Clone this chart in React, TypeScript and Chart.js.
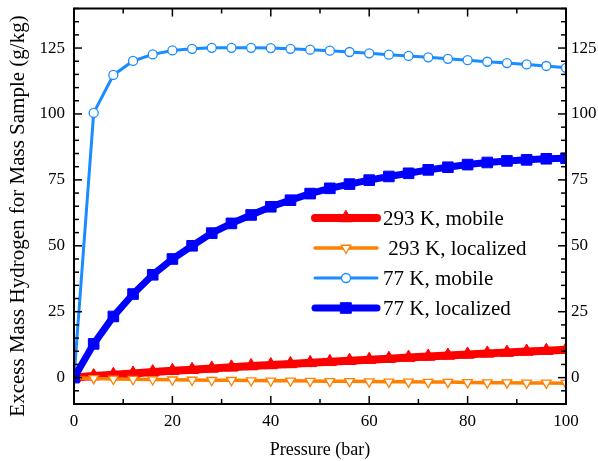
import React, { useEffect, useRef } from 'react';
import { Chart, registerables } from 'chart.js';
import { drawPoint } from 'chart.js/helpers';

Chart.register(...registerables);

const pressure = [0, 4, 8, 12, 16, 20, 24, 28, 32, 36, 40, 44, 48, 52, 56, 60, 64, 68, 72, 76, 80, 84, 88, 92, 96, 100];
const mobile293 = [0, 0.6, 1.1, 1.6, 2.1, 2.6, 3.0, 3.5, 3.9, 4.4, 4.8, 5.2, 5.6, 6.0, 6.4, 6.8, 7.2, 7.6, 8.0, 8.4, 8.8, 9.2, 9.5, 9.9, 10.2, 10.6];
const localized293 = [0, -0.3, -0.5, -0.6, -0.7, -0.8, -0.9, -1.0, -1.0, -1.1, -1.2, -1.2, -1.3, -1.4, -1.4, -1.5, -1.6, -1.6, -1.7, -1.7, -1.8, -1.9, -1.9, -2.0, -2.0, -2.1];
const mobile77 = [0, 100.4, 114.8, 120.1, 122.6, 124.1, 124.7, 125.1, 125.1, 125.1, 125.0, 124.7, 124.4, 124.0, 123.5, 123.0, 122.5, 122.0, 121.5, 120.9, 120.4, 119.8, 119.3, 118.8, 118.2, 117.5];
const localized77 = [0, 12.8, 23.2, 31.7, 39.0, 45.0, 50.0, 54.8, 58.5, 61.7, 64.8, 67.3, 69.8, 71.8, 73.4, 74.9, 76.3, 77.5, 78.8, 79.8, 80.8, 81.6, 82.2, 82.6, 83.0, 83.2];

const seriesLabels = ['293 K, mobile', ' 293 K, localized', '77 K, mobile', '77 K, localized'];
const yTickLabels = [0, 25, 50, 75, 100, 125];
const xTickLabels = [0, 20, 40, 60, 80, 100];
const xTitle = 'Pressure (bar)';
const yTitle = 'Excess Mass Hydrogen for Mass Sample (g/kg)';

const FONT = "'Liberation Serif', 'Times New Roman', serif";

const toXY = (ys: number[]) => pressure.map((x, i) => ({ x, y: ys[i] }));

const frameTicks = {
  id: 'frameTicks',
  afterDatasetsDraw(chart: any) {
    const { ctx, chartArea: a } = chart;
    ctx.save();
    ctx.strokeStyle = '#000';
    ctx.lineWidth = 1.5;
    const draw = (id: string, side: string, majors: number[]) => {
      const s = chart.scales[id];
      s.ticks.forEach((t: any) => {
        const len = majors.includes(t.value) ? 8 : 5;
        const p = s.getPixelForValue(t.value);
        ctx.beginPath();
        if (side === 'bottom') { ctx.moveTo(p, a.bottom); ctx.lineTo(p, a.bottom - len); }
        if (side === 'top') { ctx.moveTo(p, a.top); ctx.lineTo(p, a.top + len); }
        if (side === 'left') { ctx.moveTo(a.left, p); ctx.lineTo(a.left + len, p); }
        if (side === 'right') { ctx.moveTo(a.right, p); ctx.lineTo(a.right - len, p); }
        ctx.stroke();
      });
    };
    draw('x', 'bottom', xTickLabels);
    draw('x2', 'top', xTickLabels);
    draw('y', 'left', yTickLabels);
    draw('y2', 'right', yTickLabels);
    ctx.lineWidth = 2;
    ctx.strokeRect(a.left, a.top, a.right - a.left, a.bottom - a.top);
    ctx.restore();
  },
};

const yTitlePlugin = {
  id: 'yTitlePlugin',
  afterDraw(chart: any) {
    const { ctx } = chart;
    ctx.save();
    ctx.translate(18, 216);
    ctx.rotate(-Math.PI / 2);
    ctx.fillStyle = '#000';
    ctx.font = `21px ${FONT}`;
    ctx.textAlign = 'center';
    ctx.textBaseline = 'middle';
    ctx.fillText(yTitle, 0, 0);
    ctx.restore();
  },
};

const lineLegend = {
  id: 'lineLegend',
  afterDraw(chart: any) {
    const { ctx } = chart;
    const x0 = 315, x1 = 377, tx = 383, y0 = 218, dy = 30;
    ctx.save();
    chart.data.datasets.forEach((ds: any, i: number) => {
      const y = y0 + dy * i;
      ctx.beginPath();
      ctx.strokeStyle = ds.borderColor;
      ctx.lineWidth = ds.borderWidth;
      ctx.lineCap = 'round';
      ctx.moveTo(x0, y);
      ctx.lineTo(x1, y);
      ctx.stroke();
      ctx.fillStyle = ds.pointBackgroundColor;
      ctx.strokeStyle = ds.pointBorderColor;
      ctx.lineWidth = ds.pointBorderWidth;
      drawPoint(ctx, { pointStyle: ds.pointStyle, rotation: ds.pointRotation || 0, radius: ds.pointRadius, borderWidth: ds.pointBorderWidth }, (x0 + x1) / 2, y);
      ctx.fillStyle = '#000';
      ctx.font = `21px ${FONT}`;
      ctx.textBaseline = 'middle';
      ctx.textAlign = 'left';
      ctx.fillText(ds.label, tx, y + 1);
    });
    ctx.restore();
  },
};

export default function App() {
  const ref = useRef<HTMLCanvasElement>(null);
  useEffect(() => {
    if (!ref.current) return;
    const tickFont = { family: FONT, size: 17 };
    const fitV = (w: number) => (s: any) => { s.width = w; s.paddingTop = 0; s.paddingBottom = 0; };
    const fitH = (h: number) => (s: any) => { s.height = h; s.paddingLeft = 0; s.paddingRight = 0; };
    const chart = new Chart(ref.current, {
      type: 'line',
      data: {
        datasets: [
          {
            label: seriesLabels[0], data: toXY(mobile293), borderColor: '#ff0000', borderWidth: 8,
            pointStyle: 'triangle', pointRadius: 7.5, pointBackgroundColor: '#ff0000', pointBorderColor: '#ff0000', pointBorderWidth: 1, order: 4,
          },
          {
            label: seriesLabels[1], data: toXY(localized293), borderColor: '#ff8000', borderWidth: 3.5,
            pointStyle: 'triangle', pointRotation: 180, pointRadius: 5.5, pointBackgroundColor: '#ffffff', pointBorderColor: '#ff8000', pointBorderWidth: 1.3, order: 3,
          },
          {
            label: seriesLabels[2], data: toXY(mobile77), borderColor: '#1a8cff', borderWidth: 3,
            pointStyle: 'circle', pointRadius: 4.5, pointBackgroundColor: '#ffffff', pointBorderColor: '#1a8cff', pointBorderWidth: 1.3, order: 2,
          },
          {
            label: seriesLabels[3], data: toXY(localized77), borderColor: '#0000ff', borderWidth: 7,
            pointStyle: 'rect', pointRadius: 7.5, pointBackgroundColor: '#0000ff', pointBorderColor: '#0000ff', pointBorderWidth: 1, order: 1,
          },
        ] as any,
      },
      options: {
        animation: false,
        responsive: true,
        maintainAspectRatio: false,
        layout: { padding: 0 },
        plugins: { legend: { display: false }, tooltip: { enabled: false } },
        scales: {
          x: {
            type: 'linear', position: 'bottom', min: 0, max: 100,
            grid: { display: false, drawTicks: false }, border: { display: false },
            ticks: { stepSize: 10, autoSkip: false, maxRotation: 0, padding: 7, color: '#000', font: tickFont,
              callback: (v: any) => (xTickLabels.includes(v) ? String(v) : '') },
            title: { display: true, text: xTitle, color: '#000', font: { family: FONT, size: 18 }, padding: { top: 0, bottom: 0 } },
            afterFit: fitH(57),
          },
          x2: {
            type: 'linear', position: 'top', min: 0, max: 100,
            grid: { display: false, drawTicks: false }, border: { display: false },
            ticks: { stepSize: 10, display: false },
            afterFit: fitH(7),
          },
          y: {
            type: 'linear', position: 'left', min: -10, max: 140,
            grid: { display: false, drawTicks: false }, border: { display: false },
            ticks: { stepSize: 5, autoSkip: false, padding: 9, color: '#000', font: tickFont,
              callback: (v: any) => (yTickLabels.includes(v) ? String(v) : '') },
            afterFit: fitV(74),
          },
          y2: {
            type: 'linear', position: 'right', min: -10, max: 140,
            grid: { display: false, drawTicks: false }, border: { display: false },
            ticks: { stepSize: 5, autoSkip: false, padding: 5, color: '#000', font: tickFont,
              callback: (v: any) => (yTickLabels.includes(v) ? String(v) : '') },
            afterFit: fitV(32),
          },
        },
      } as any,
      plugins: [frameTicks, yTitlePlugin, lineLegend],
    });
    return () => chart.destroy();
  }, []);
  return (
    <div style={{ position: 'fixed', left: 0, top: 0, width: 598, height: 461, background: '#fff' }}>
      <canvas ref={ref} />
    </div>
  );
}
